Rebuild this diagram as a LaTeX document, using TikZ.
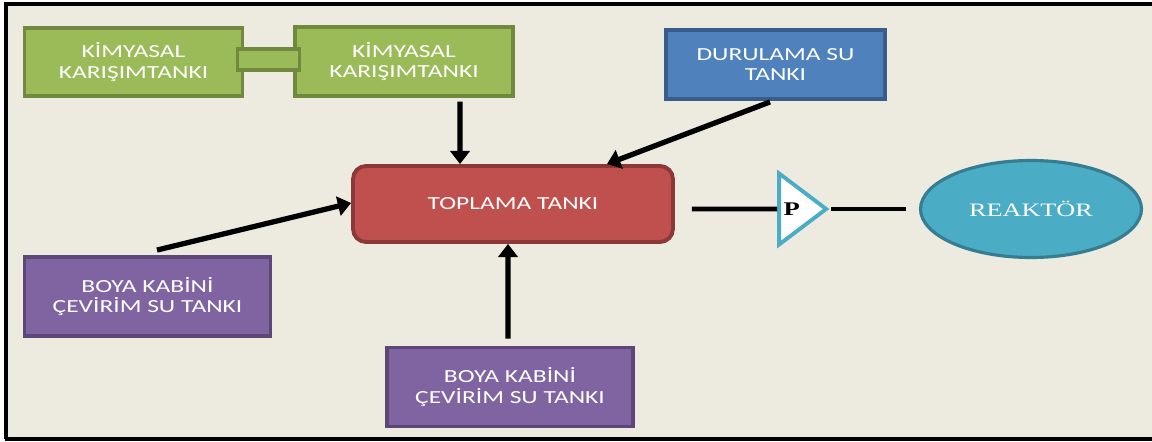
\documentclass[tikz,border=0pt]{standalone}
\usepackage{fontspec}
\usepackage{xcolor}
\usepackage{tikz}
\usetikzlibrary{positioning, arrows.meta, shapes.geometric}
\newfontfamily\tankfont[FakeStretch=1.38]{Carlito}
\newfontfamily\reakfont[FakeStretch=1.38]{Liberation Serif}
\definecolor{paper}{HTML}{EDEAE0}
\definecolor{olive}{HTML}{9BBB59}
\definecolor{oliveline}{HTML}{71893F}
\definecolor{sky}{HTML}{4F81BD}
\definecolor{skyline}{HTML}{385D8A}
\definecolor{brick}{HTML}{C0504D}
\definecolor{brickline}{HTML}{8C3836}
\definecolor{plum}{HTML}{8064A2}
\definecolor{plumline}{HTML}{5C4776}
\definecolor{aqua}{HTML}{4BACC6}
\definecolor{aqualine}{HTML}{357D91}

\begin{document}
\begin{tikzpicture}[
  x=0.02cm, y=-0.02cm,
  every node/.style={align=center, text=white},
  tank/.style={rectangle, line width=2.2pt, inner sep=2pt,
               font=\tankfont\fontsize{10.5}{11.6}\selectfont},
  chem/.style={tank, fill=olive, draw=oliveline,
               minimum width=4.36cm, minimum height=1.37cm},
  rinse/.style={tank, fill=sky, draw=skyline,
                minimum width=4.38cm, minimum height=1.38cm},
  paint/.style={tank, fill=plum, draw=plumline,
                minimum width=4.92cm, minimum height=1.58cm},
  collect/.style={tank, fill=brick, draw=brickline, rounded corners=0.26cm,
                  minimum width=6.4cm, minimum height=1.52cm},
  arr/.style={-{Triangle[length=7.5pt, width=11pt]}, line width=3pt},
  pipe/.style={line width=2.8pt}
]
\useasboundingbox (0,0) rectangle (1152,442);
% page and frame
\fill[paper] (6,4) rectangle (1152,439);
\draw[line width=2pt] (1152,4) -- (6,4) -- (6,439);
\draw[line width=2.4pt] (5,439) -- (1152,439);

% tanks
\node[chem] (k1) at (133.5,62) {KİMYASAL\\KARIŞIMTANKI};
\node[chem] (k2) at (404,61.5) {KİMYASAL\\KARIŞIMTANKI};
\node[rectangle, fill=olive, draw=oliveline, line width=2.2pt,
      minimum width=1.24cm, minimum height=0.42cm, inner sep=0pt]
  (link) at (268.5,59.5) {};
\node[rinse] (dur) at (775.5,64.5) {DURULAMA SU\\TANKI};
\node[collect] (top) at (513,204) {TOPLAMA TANKI};
\node[paint] (b1) at (147.5,296.5) {BOYA KABİNİ\\ÇEVİRİM SU TANKI};
\node[paint] (b2) at (510,387) {BOYA KABİNİ\\ÇEVİRİM SU TANKI};

% pump and reactor
\node[isosceles triangle, isosceles triangle stretches, fill=white,
      draw=aqua, line width=2.2pt, minimum width=1.42cm, minimum height=0.94cm,
      inner sep=0pt, text=black, font=\reakfont\bfseries\fontsize{11}{12}\selectfont]
  (pump) at (797,209) {P\hspace*{6pt}};
\node[ellipse, fill=aqua, draw=aqualine, line width=1.8pt,
      minimum width=4.42cm, minimum height=1.94cm,
      font=\reakfont\fontsize{10.8}{12}\selectfont]
  (reak) at (1031,209) {REAKTÖR};

% flows into the collecting tank
\draw[arr] ([xshift=1.12cm, yshift=-0.08cm]k2.south) -- ([xshift=-1.06cm]top.north);
\draw[arr] ([xshift=-0.11cm, yshift=-0.02cm]dur.south) -- ([xshift=1.88cm]top.north);
\draw[arr] ([xshift=0.19cm, yshift=0.1cm]b1.north) -- ([yshift=0.02cm]top.west);
\draw[arr] ([xshift=-0.04cm, yshift=0.14cm]b2.north) -- ([xshift=-0.1cm]top.south);

% pipe to the reactor
\draw[pipe] ([xshift=0.34cm, yshift=-0.1cm]top.east) -- (pump.west);
\draw[pipe] (pump.apex) -- ([xshift=-0.26cm]reak.west);
\end{tikzpicture}
\end{document}
